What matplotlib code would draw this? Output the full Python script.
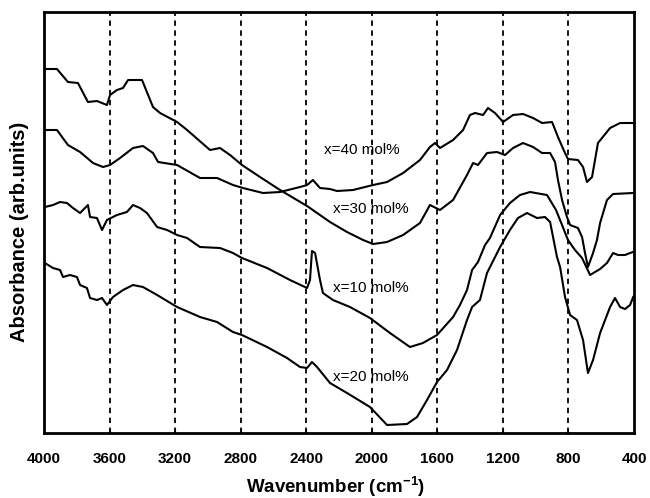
"""FTIR absorbance spectra for four compositions."""

import matplotlib
matplotlib.use("Agg")
import matplotlib.pyplot as plt

plt.rcParams["font.family"] = ["Liberation Sans", "DejaVu Sans"]
plt.rcParams["mathtext.fontset"] = "custom"
plt.rcParams["mathtext.bf"] = "Liberation Sans:bold"

# wavenumber (cm-1) and absorbance (arb. units)
wn_40 = [3995, 3921, 3854, 3780, 3701, 3640, 3597, 3536, 3457, 3396, 3335, 3304,
         3188, 3048, 2944, 2847, 2786, 2664, 2560, 2438, 2395, 2359, 2316, 2255,
         2212, 2115, 1992, 1907, 1809, 1706, 1645, 1614, 1584, 1504, 1443, 1401,
         1370, 1321, 1291, 1248, 1199, 1138, 1077, 1016, 961, 900, 864, 821, 803,
         742, 711, 687, 656, 620, 546, 485, 405]
abs_40 = [303, 303, 288, 281, 270, 266, 268, 275, 285, 287, 280, 271,
          268, 255, 255, 248, 245, 240, 241, 246, 248, 253, 245, 244,
          242, 243, 248, 251, 260, 273, 286, 290, 285, 293, 303, 318,
          320, 318, 325, 320, 311, 318, 319, 315, 310, 311, 296, 280, 274,
          273, 266, 251, 256, 290, 305, 310, 310]

wn_30 = [3995, 3921, 3854, 3793, 3732, 3677, 3616, 3597, 3555, 3518, 3487, 3402,
         3335, 3292, 3188, 3127, 2987, 2926, 2865, 2792, 2682, 2560, 2395, 2255,
         2151, 2053, 1992, 1907, 1809, 1706, 1645, 1584, 1504, 1419, 1382, 1352,
         1297, 1236, 1187, 1138, 1077, 1016, 961, 912, 882, 864, 839, 809, 790,
         742, 717, 699, 681, 650, 626, 607, 565, 528, 405]
abs_30 = [364, 364, 351, 350, 331, 332, 328, 338, 343, 345, 353, 353,
          326, 320, 311, 303, 283, 285, 278, 268, 256, 243, 227, 211,
          201, 193, 189, 191, 198, 210, 228, 223, 233, 258, 270, 268,
          280, 281, 278, 285, 290, 286, 280, 280, 271, 253, 233, 216, 208,
          205, 196, 180, 166, 180, 193, 210, 233, 239, 240]

wn_10 = [3995, 3945, 3902, 3860, 3823, 3780, 3750, 3732, 3719, 3677, 3646, 3616,
         3555, 3494, 3457, 3414, 3372, 3310, 3249, 3188, 3127, 3048, 2926, 2847,
         2792, 2639, 2499, 2395, 2377, 2365, 2346, 2316, 2298, 2237, 2133, 2011,
         1889, 1767, 1688, 1602, 1504, 1462, 1419, 1388, 1352, 1309, 1279, 1217,
         1157, 1096, 1034, 931, 876, 839, 803, 760, 717, 668, 638, 607, 565,
         528, 497, 455, 424, 405]
abs_10 = [226, 228, 231, 230, 225, 220, 225, 228, 216, 215, 203, 213,
          218, 221, 228, 225, 220, 206, 203, 198, 195, 186, 185, 180,
          175, 165, 153, 145, 153, 182, 180, 153, 140, 133, 126, 115,
          100, 86, 90, 98, 116, 128, 143, 163, 171, 188, 195, 218,
          230, 238, 241, 238, 223, 208, 193, 183, 175, 158, 161, 164, 170,
          180, 178, 178, 180, 181]

wn_20 = [3995, 3945, 3902, 3884, 3841, 3799, 3780, 3738, 3719, 3677, 3646, 3616,
         3579, 3518, 3457, 3396, 3310, 3188, 3048, 2944, 2847, 2792, 2639, 2517,
         2438, 2395, 2365, 2334, 2255, 2151, 2011, 1907, 1785, 1724, 1663, 1602,
         1541, 1480, 1419, 1388, 1340, 1297, 1217, 1157, 1108, 1053, 992, 943,
         912, 894, 870, 851, 821, 790, 748, 711, 681, 650, 607, 546, 516, 485,
         455, 424, 405]
abs_20 = [170, 165, 163, 156, 158, 156, 148, 145, 135, 133, 135, 128,
          136, 143, 148, 146, 138, 126, 116, 111, 101, 98, 86, 75,
          66, 65, 71, 66, 50, 40, 26, 8, 9, 16, 33, 51,
          63, 83, 113, 126, 133, 160, 186, 203, 215, 220, 215, 216,
          211, 196, 176, 166, 136, 118, 113, 93, 60, 73, 100, 126, 135, 126,
          124, 128, 136]

series = [(wn_40, abs_40), (wn_30, abs_30), (wn_10, abs_10), (wn_20, abs_20)]
labels = ["x=40 mol%", "x=30 mol%", "x=10 mol%", "x=20 mol%"]
label_pos = [(2060, 283), (2005, 224), (2005, 145), (2005, 56)]
grid_wn = [3600, 3200, 2800, 2400, 2000, 1600, 1200, 800]
xticks = [4000, 3600, 3200, 2800, 2400, 2000, 1600, 1200, 800, 400]

fig = plt.figure(figsize=(6.5, 4.98), dpi=100)
ax = fig.add_axes([0.0677, 0.1305, 0.9077, 0.8454])

for wn in grid_wn:
    ax.axvline(wn, color="black", lw=1.3, ls=(0, (3, 2.5)), zorder=1)

for wn, ab in series:
    ax.plot(wn, ab, color="black", lw=1.5, zorder=2)

for text, (xp, yp) in zip(labels, label_pos):
    ax.text(xp, yp, text, fontsize=11, ha="center", va="center", zorder=3)

ax.set_xlim(4000, 400)
ax.set_ylim(0, 421)
ax.set_xticks(xticks)
ax.set_xticklabels([str(t) for t in xticks], fontsize=11, fontweight="bold")
ax.set_yticks([])
ax.tick_params(axis="x", direction="in", length=3, pad=14)
for sp in ax.spines.values():
    sp.set_linewidth(2)

fig.text(0.517, 1 - 487 / 498, r"Wavenumber (cm$\mathbf{^{-1}}$)",
         fontsize=13.5, fontweight="bold", ha="center", va="center")
fig.text(20 / 650, 1 - 232 / 498, "Absorbance (arb.units)",
         fontsize=14.5, fontweight="bold", ha="center", va="center", rotation=90)

fig.savefig("out.png", dpi=100)
